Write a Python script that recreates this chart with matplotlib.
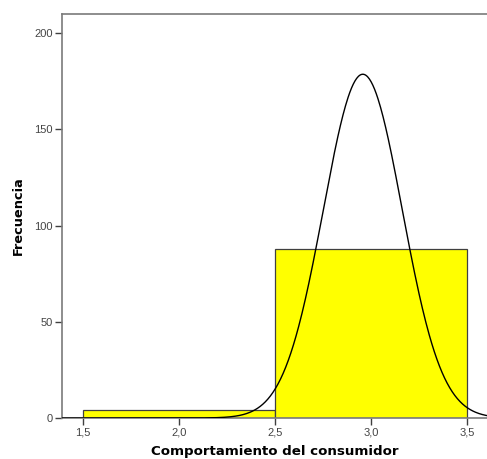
import numpy as np
import matplotlib
matplotlib.use("Agg")
import matplotlib.pyplot as plt

# histogram data
bin_edges = [1.5, 2.5, 3.5]
counts = [4, 88]
# normal curve parameters
mean_val = 2.957
sd_val = 0.2054
n_total = 92

xticks = [1.5, 2.0, 2.5, 3.0, 3.5]
xtick_labels = ["1,5", "2,0", "2,5", "3,0", "3,5"]
yticks = [0, 50, 100, 150, 200]

fig = plt.figure(figsize=(4.87, 4.59), dpi=100)
ax = fig.add_axes([0.1273, 0.0893, 0.8727, 0.8802])

widths = np.diff(bin_edges)
ax.bar(bin_edges[:-1], counts, width=widths, align="edge",
       color="#ffff00", edgecolor="#404040", linewidth=0.9, zorder=2)

xs = np.linspace(1.39, 3.61, 500)
bw = widths[0]
ys = n_total * bw / (sd_val * np.sqrt(2 * np.pi)) * np.exp(-(xs - mean_val) ** 2 / (2 * sd_val ** 2))
ax.plot(xs, ys, color="black", linewidth=1.0, zorder=3)

ax.set_xlim(1.39, 3.604)
ax.set_ylim(0, 210)
ax.set_xticks(xticks)
ax.set_xticklabels(xtick_labels)
ax.set_yticks(yticks)

for s in ["left", "top", "bottom"]:
    ax.spines[s].set_color("#7a7a7a")
    ax.spines[s].set_linewidth(1.2)
ax.spines["right"].set_visible(False)

ax.tick_params(axis="both", direction="out", length=5, width=1.0,
               color="#404040", labelsize=8, labelcolor="#444444", pad=1.5)
for lab in ax.get_xticklabels() + ax.get_yticklabels():
    lab.set_family("Liberation Sans")

ax.set_xlabel("Comportamiento del consumidor", fontsize=9.6, fontweight="bold", labelpad=6)
ax.set_ylabel("Frecuencia", fontsize=9.3, fontweight="bold", labelpad=7)

fig.savefig("out.png", dpi=100)
